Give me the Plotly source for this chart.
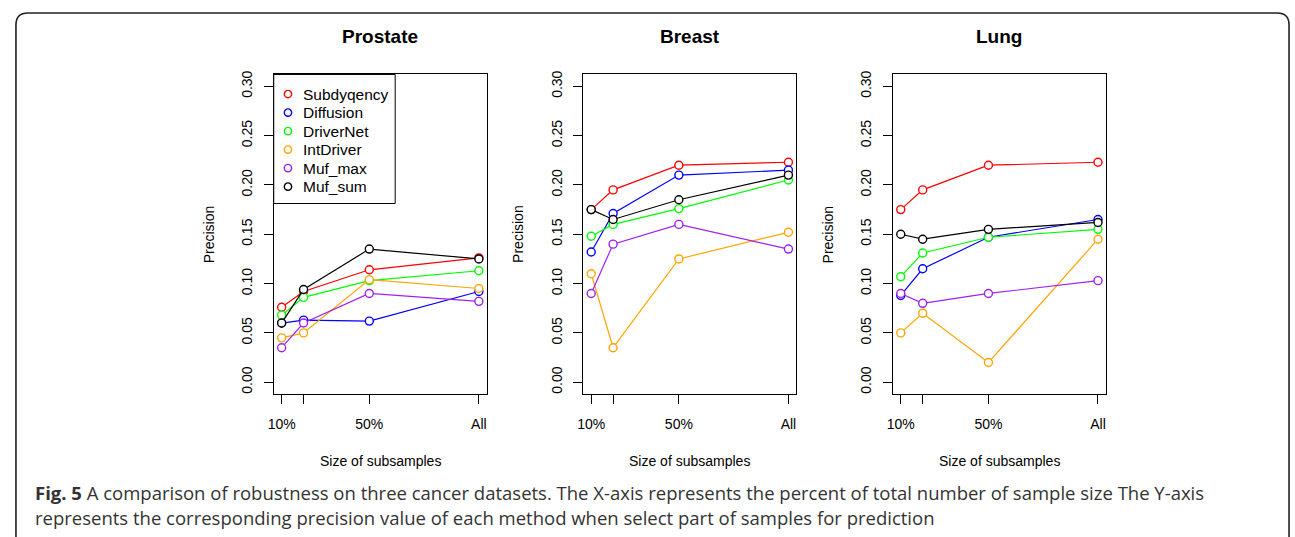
import plotly.graph_objects as go

W, H = 1295, 537

# ---------------- data ----------------
x_vals = [10, 20, 50, 100]
x_ticktext = ["10%", "", "50%", "All"]
y_tickvals = [0.00, 0.05, 0.10, 0.15, 0.20, 0.25, 0.30]
y_ticktext = ["0.00", "0.05", "0.10", "0.15", "0.20", "0.25", "0.30"]

methods = ["Subdyqency", "Diffusion", "DriverNet", "IntDriver", "Muf_max", "Muf_sum"]
colors = ["#FF0000", "#0000FF", "#00FF00", "#FFA500", "#A020F0", "#000000"]
panels = ["Prostate", "Breast", "Lung"]

prostate_subdyqency = [0.076, 0.092, 0.114, 0.126]
prostate_diffusion = [0.060, 0.063, 0.062, 0.092]
prostate_drivernet = [0.068, 0.086, 0.103, 0.113]
prostate_intdriver = [0.045, 0.050, 0.104, 0.095]
prostate_muf_max = [0.035, 0.060, 0.090, 0.082]
prostate_muf_sum = [0.060, 0.094, 0.135, 0.125]

breast_subdyqency = [0.175, 0.195, 0.220, 0.223]
breast_diffusion = [0.132, 0.171, 0.210, 0.215]
breast_drivernet = [0.148, 0.160, 0.176, 0.205]
breast_intdriver = [0.110, 0.035, 0.125, 0.152]
breast_muf_max = [0.090, 0.140, 0.160, 0.135]
breast_muf_sum = [0.175, 0.165, 0.185, 0.210]

lung_subdyqency = [0.175, 0.195, 0.220, 0.223]
lung_diffusion = [0.088, 0.115, 0.147, 0.165]
lung_drivernet = [0.107, 0.131, 0.147, 0.155]
lung_intdriver = [0.050, 0.070, 0.020, 0.145]
lung_muf_max = [0.090, 0.080, 0.090, 0.103]
lung_muf_sum = [0.150, 0.145, 0.155, 0.162]

panel_data = {
    "Prostate": [prostate_subdyqency, prostate_diffusion, prostate_drivernet,
                 prostate_intdriver, prostate_muf_max, prostate_muf_sum],
    "Breast": [breast_subdyqency, breast_diffusion, breast_drivernet,
               breast_intdriver, breast_muf_max, breast_muf_sum],
    "Lung": [lung_subdyqency, lung_diffusion, lung_drivernet,
             lung_intdriver, lung_muf_max, lung_muf_sum],
}

caption_line1 = ("<b>Fig. 5</b> A comparison of robustness on three cancer datasets. "
                 "The X-axis represents the percent of total number of sample size The Y-axis")
caption_line2 = ("represents the corresponding precision value of each method when select "
                 "part of samples for prediction")

# ---------------- layout geometry (pixels) ----------------
box_left = [269, 580, 891]
box_w = 214
box_top, box_bottom = 71, 393

def px(xp):
    return xp / W

def py(yp):
    return 1 - yp / H

FONT = "Liberation Sans, Arial, Helvetica, sans-serif"

fig = go.Figure()

for pi, pname in enumerate(panels):
    ax = "" if pi == 0 else str(pi + 1)
    for mi, m in enumerate(methods):
        fig.add_trace(go.Scatter(
            x=x_vals, y=panel_data[pname][mi],
            mode="lines+markers", name=m,
            line=dict(color=colors[mi], width=1.2),
            marker=dict(symbol="circle", size=8, color="white",
                        line=dict(color=colors[mi], width=1.4)),
            xaxis="x" + ax, yaxis="y" + ax,
            showlegend=False, hoverinfo="skip",
        ))

layout = dict(
    width=W, height=H,
    margin=dict(l=0, r=0, t=0, b=0),
    paper_bgcolor="white", plot_bgcolor="white",
    font=dict(family=FONT, color="black", size=14),
    showlegend=False,
)

for pi in range(3):
    ax = "" if pi == 0 else str(pi + 1)
    layout["xaxis" + ax] = dict(
        domain=[px(box_left[pi]), px(box_left[pi] + box_w)],
        range=[6.4, 103.6], anchor="y" + ax,
        tickmode="array", tickvals=x_vals, ticktext=x_ticktext,
        ticks="outside", ticklen=9, tickwidth=1, tickcolor="black",
        showline=True, mirror=True, linecolor="black", linewidth=1,
        showgrid=False, zeroline=False,
        tickfont=dict(family=FONT, size=14, color="black"),
        ticklabelstandoff=8,
    )
    layout["yaxis" + ax] = dict(
        domain=[py(box_bottom), py(box_top)],
        range=[-0.012, 0.312], anchor="x" + ax,
        tickmode="array", tickvals=y_tickvals, ticktext=y_ticktext,
        tickangle=-90,
        ticks="outside", ticklen=9, tickwidth=1, tickcolor="black",
        showline=True, mirror=True, linecolor="black", linewidth=1,
        showgrid=False, zeroline=False,
        tickfont=dict(family=FONT, size=14, color="black"),
        ticklabelstandoff=6,
    )

fig.update_layout(**layout)

ann = []
shapes = []
for pi, pname in enumerate(panels):
    cx = box_left[pi] + box_w / 2
    ann.append(dict(text="<b>%s</b>" % pname, x=px(cx), y=py(33),
                    xref="paper", yref="paper", showarrow=False,
                    xanchor="center", yanchor="middle",
                    font=dict(family=FONT, size=19, color="black")))
    ann.append(dict(text="Size of subsamples", x=px(cx), y=py(460),
                    xref="paper", yref="paper", showarrow=False,
                    xanchor="center", yanchor="middle",
                    font=dict(family=FONT, size=14, color="black")))
    ann.append(dict(text="Precision", x=px(box_left[pi] - 65), y=py(232),
                    xref="paper", yref="paper", showarrow=False, textangle=-90,
                    xanchor="center", yanchor="middle",
                    font=dict(family=FONT, size=14, color="black")))

# ---- legend box (R-style, drawn in the first panel's top-left corner) ----
lg_l, lg_t, lg_r, lg_b = 269, 71, 391, 201
lg_y0, lg_dy = 90.7, 18.65
shapes.append(dict(type="rect", xref="paper", yref="paper",
                   x0=px(lg_l), x1=px(lg_r), y0=py(lg_b), y1=py(lg_t),
                   line=dict(color="black", width=1), fillcolor="white", layer="above"))
for mi, m in enumerate(methods):
    yc = lg_y0 + mi * lg_dy
    shapes.append(dict(type="circle", xref="paper", yref="paper",
                       x0=px(283.3 - 3.7), x1=px(283.3 + 3.7),
                       y0=py(yc + 3.7), y1=py(yc - 3.7),
                       line=dict(color=colors[mi], width=1.4), layer="above"))
    ann.append(dict(text=m, x=px(296.5), y=py(yc), xref="paper", yref="paper",
                    showarrow=False, xanchor="left", yanchor="middle",
                    font=dict(family=FONT, size=15.5, color="black")))

CAP_FONT = "Open Sans, Noto Sans, sans-serif"
ann.append(dict(text=caption_line1, x=px(27), y=py(492), xref="paper", yref="paper",
                showarrow=False, xanchor="left", yanchor="middle",
                font=dict(family=CAP_FONT, size=18.5, color="#333333")))
ann.append(dict(text=caption_line2, x=px(27), y=py(517), xref="paper", yref="paper",
                showarrow=False, xanchor="left", yanchor="middle",
                font=dict(family=CAP_FONT, size=18.5, color="#333333")))

# rounded outer frame (open at the bottom, as in the reference crop)
L, T, R, B, r = 10, 9, 1289, 545, 12
path = (f"M {px(L)},{py(B)} L {px(L)},{py(T + r)} Q {px(L)},{py(T)} {px(L + r)},{py(T)} "
        f"L {px(R - r)},{py(T)} Q {px(R)},{py(T)} {px(R)},{py(T + r)} L {px(R)},{py(B)}")
shapes.append(dict(type="path", path=path, xref="paper", yref="paper",
                   line=dict(color="#222222", width=1.6), layer="above"))

fig.update_layout(annotations=ann, shapes=shapes)

post = ("document.documentElement.style.margin='0';document.documentElement.style.padding='0';"
        "document.body.style.margin='0';document.body.style.padding='0';"
        "document.body.style.overflow='hidden';")
fig.write_html("out.html", post_script=post, config={"displayModeBar": False})
